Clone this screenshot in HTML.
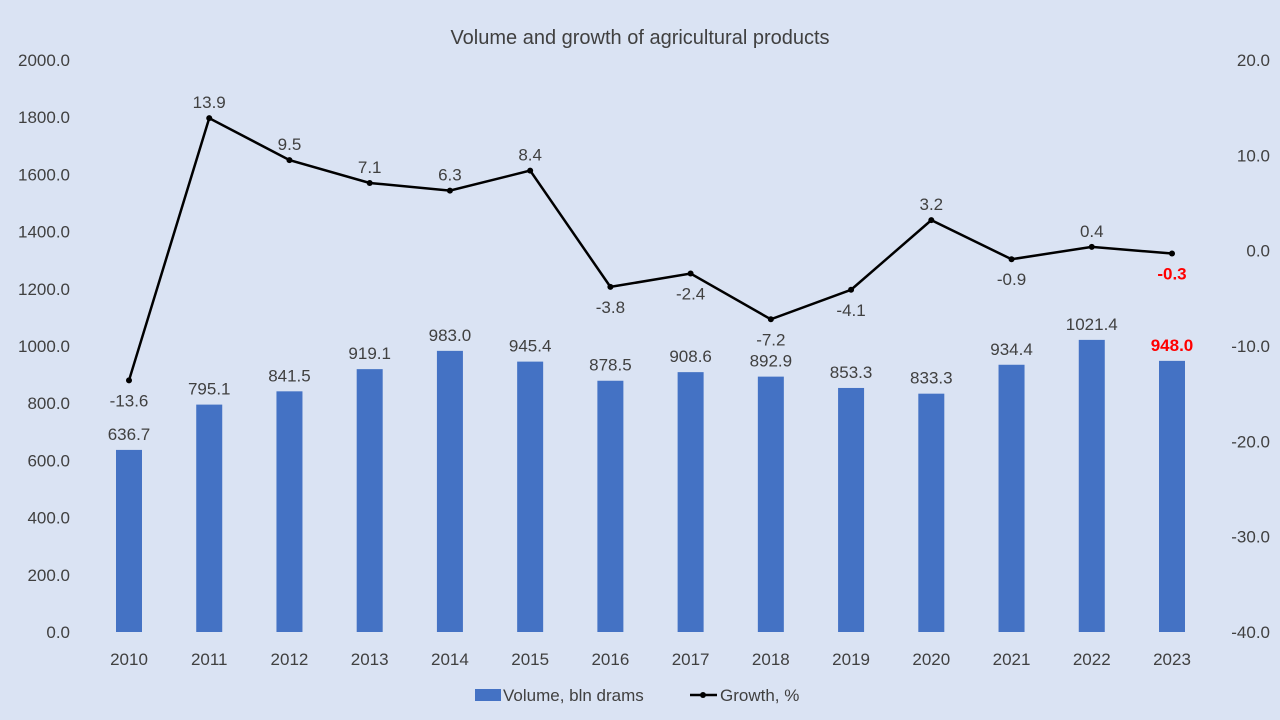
<!DOCTYPE html>
<html><head><meta charset="utf-8"><style>
html,body{margin:0;padding:0;background:#dae3f3;}
svg{display:block;font-family:"Liberation Sans",sans-serif;}
</style></head><body>
<svg id="chart" width="1280" height="720">
<rect width="1280" height="720" fill="#dae3f3"/>
<text x="640" y="44" text-anchor="middle" font-size="20" fill="#404040">Volume and growth of agricultural products</text>
<g id="axes"></g><g id="bars"></g><g id="line"></g>
<g>
<rect x="475" y="689" width="26" height="12" fill="#4472c4"/>
<text x="503" y="701" font-size="17" fill="#404040">Volume, bln drams</text>
<line x1="690" y1="695" x2="717" y2="695" stroke="#000" stroke-width="2.5"/>
<circle cx="703" cy="695" r="3" fill="#000"/>
<text x="720" y="701" font-size="17" fill="#404040">Growth, %</text>
</g>
</svg>
<script>
const categories=["2010","2011","2012","2013","2014","2015","2016","2017","2018","2019","2020","2021","2022","2023"];
const volume=[636.7,795.1,841.5,919.1,983.0,945.4,878.5,908.6,892.9,853.3,833.3,934.4,1021.4,948.0];
const growth=[-13.6,13.9,9.5,7.1,6.3,8.4,-3.8,-2.4,-7.2,-4.1,3.2,-0.9,0.4,-0.3];
const leftTicks=[0,200,400,600,800,1000,1200,1400,1600,1800,2000];
const rightTicks=[-40,-30,-20,-10,0,10,20];
const NS="http://www.w3.org/2000/svg";
const yTop=60,yBot=632,x0=129,x1=1172;
const xs=i=>x0+(x1-x0)*i/(categories.length-1);
const yL=v=>yBot-(v/2000)*(yBot-yTop);
const yR=v=>yBot-((v+40)/60)*(yBot-yTop);
function mk(tag,attrs,parent,txt){const e=document.createElementNS(NS,tag);for(const k in attrs)e.setAttribute(k,attrs[k]);if(txt!==undefined)e.textContent=txt;parent.appendChild(e);return e;}
const axes=document.getElementById('axes'),bars=document.getElementById('bars'),line=document.getElementById('line');
leftTicks.forEach(t=>{const e=mk('text',{x:70,y:yL(t)+6,'text-anchor':'end','font-size':17,fill:'#404040'},axes,t.toFixed(1));

});
rightTicks.forEach(t=>{const e=mk('text',{x:1270,y:yR(t)+6,'text-anchor':'end','font-size':17,fill:'#404040'},axes,t.toFixed(1));

});
categories.forEach((c,i)=>{const e=mk('text',{x:xs(i),y:665,'text-anchor':'middle','font-size':17,fill:'#404040'},axes,c);

});
volume.forEach((v,i)=>{const r=mk('rect',{x:xs(i)-13,y:yL(v),width:26,height:yBot-yL(v),fill:'#4472c4'},bars);


const last=i===volume.length-1;
const t=mk('text',{x:xs(i),y:yL(v)-10,'text-anchor':'middle','font-size':17,fill:last?'#ff0000':'#404040','font-weight':last?'bold':'normal'},bars,v.toFixed(1));

});
const pts=growth.map((g,i)=>xs(i)+','+yR(g)).join(' ');
const pl=mk('polyline',{points:pts,fill:'none',stroke:'#000','stroke-width':2.5},line);


growth.forEach((g,i)=>{const c=mk('circle',{cx:xs(i),cy:yR(g),r:3,fill:'#000'},line);


const below=g<0;
const last=i===growth.length-1;
const t=mk('text',{x:xs(i),y:below?yR(g)+26:yR(g)-10,'text-anchor':'middle','font-size':17,fill:last?'#ff0000':'#404040','font-weight':last?'bold':'normal'},line,g.toFixed(1));

});
</script>
</body></html>
